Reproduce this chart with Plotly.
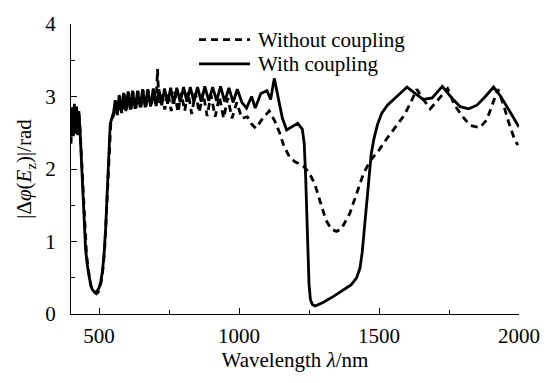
import plotly.graph_objects as go

# ---- data ----
wl_with = [400,404,408,412,416,420,424,428,432,436,440,446,452,458,464,470,476,482,488,494,
           500,506,512,518,524,530,535,540,546,552,558,565,572,580,588,596,604,612,620,629,
           638,647,656,665,674,684,694,704,714,724,734,745,756,767,778,790,802,814,826,839,
           852,865,878,892,906,920,934,949,964,979,994,1010,1027,1045,1058,1078,1100,1113,1126,1140,
           1155,1170,1190,1210,1226,1233,1238,1242,1246,1250,1255,1262,1272,1300,1336,1370,1400,1420,1432,1440,
           1448,1456,1464,1472,1482,1495,1510,1530,1555,1580,1600,1630,1658,1690,1726,1760,1790,1820,1850,1880,
           1909,1935,1960,1980,2000]
phase_with = [2.45,2.85,2.5,2.9,2.55,2.86,2.5,2.8,2.55,2.2,1.75,1.25,0.9,0.68,0.5,0.4,0.34,0.31,0.3,0.32,
              0.36,0.44,0.58,0.82,1.2,1.75,2.3,2.62,2.7,2.78,2.95,2.76,3.02,2.78,3.05,2.8,3.07,2.82,3.08,2.83,
              3.08,2.85,3.1,2.85,3.1,2.86,3.11,2.87,3.1,2.88,3.11,2.9,3.12,2.9,3.12,2.92,3.13,2.93,3.13,2.93,
              3.13,2.93,3.14,2.94,3.13,2.94,3.14,2.93,3.12,2.92,3.1,2.92,2.84,3.0,2.84,3.04,3.08,2.96,3.25,3.0,
              2.7,2.54,2.58,2.63,2.55,2.35,1.9,1.4,0.85,0.42,0.2,0.13,0.11,0.16,0.24,0.32,0.4,0.5,0.63,0.85,
              1.2,1.6,1.95,2.2,2.42,2.62,2.77,2.88,2.97,3.06,3.13,3.04,2.96,2.98,3.14,2.98,2.86,2.83,2.88,3.0,
              3.13,3.0,2.84,2.72,2.58]

wl_without = [400,404,408,412,416,420,424,428,433,438,443,449,455,461,467,473,479,485,491,497,
              503,509,515,521,527,532,537,542,548,554,560,567,574,582,590,598,606,614,622,631,
              640,649,658,667,676,686,696,704,709,714,724,735,746,758,770,782,794,806,818,831,
              844,858,872,886,900,915,930,945,960,975,992,1010,1030,1045,1060,1085,1108,1128,1145,1160,
              1181,1200,1228,1250,1270,1290,1310,1330,1348,1365,1380,1396,1420,1444,1468,1498,1528,1560,1590,1615,
              1635,1660,1683,1710,1745,1770,1795,1826,1860,1885,1910,1925,1945,1965,1985,1996]
phase_without = [2.35,2.78,2.42,2.85,2.48,2.82,2.45,2.78,2.5,2.15,1.7,1.2,0.85,0.62,0.46,0.36,0.31,0.29,0.28,0.3,
                 0.36,0.47,0.65,0.95,1.4,1.9,2.35,2.62,2.7,2.76,2.93,2.74,3.0,2.76,3.03,2.79,3.05,2.8,3.06,2.82,
                 3.07,2.83,3.08,2.84,3.08,2.85,3.07,2.9,3.38,2.9,3.05,2.82,3.06,2.8,3.07,2.78,3.05,2.8,3.06,2.76,
                 3.05,2.78,3.05,2.73,3.02,2.72,3.0,2.7,2.98,2.7,2.92,2.7,2.72,2.62,2.56,2.7,2.8,2.66,2.5,2.32,
                 2.16,2.1,2.05,1.95,1.8,1.56,1.3,1.17,1.14,1.17,1.27,1.39,1.66,1.93,2.11,2.25,2.42,2.58,2.74,2.93,
                 3.1,2.95,2.83,2.95,3.11,2.88,2.74,2.6,2.57,2.68,2.95,3.1,2.88,2.62,2.4,2.33]

series_names = ["Without coupling", "With coupling"]
x_ticks = [500, 1000, 1500, 2000]
y_ticks = [0, 1, 2, 3, 4]

FONT = "Liberation Serif, Times New Roman, serif"
FS = 21

fig = go.Figure()
fig.add_trace(go.Scatter(x=wl_without, y=phase_without, mode="lines", name=series_names[0],
                         line=dict(color="black", width=2.8, dash="7px,5px"), showlegend=False))
fig.add_trace(go.Scatter(x=wl_with, y=phase_with, mode="lines", name=series_names[1],
                         line=dict(color="black", width=2.8), showlegend=False))

# manual legend (paper coordinates)
leg_items = [(series_names[0], "7px,5px", 32), (series_names[1], "solid", 57)]
W, H = 553, 383
L, R, T, B = 71, 34, 16, 69
pw, ph = W - L - R, H - T - B
def px(x):
    return (x - L) / pw
def py(y):
    return (H - B - y) / ph
for name, dash, ypix in leg_items:
    fig.add_shape(type="line", xref="paper", yref="paper",
                  x0=px(199), x1=px(250), y0=py(ypix), y1=py(ypix),
                  line=dict(color="black", width=2.8, dash=dash))
    fig.add_annotation(xref="paper", yref="paper", x=px(256), y=py(ypix),
                       text=name, showarrow=False, xanchor="left", yanchor="middle",
                       font=dict(family=FONT, size=FS, color="black"))

fig.update_layout(
    width=W, height=H,
    margin=dict(l=L, r=R, t=T, b=B),
    plot_bgcolor="white", paper_bgcolor="white",
    font=dict(family=FONT, size=FS, color="black"),
    showlegend=False,
)
fig.update_xaxes(range=[400, 2000], tickvals=x_ticks, ticks="inside", ticklen=6, tickwidth=1,
                 tickcolor="black", showline=True, linecolor="black", linewidth=1.2,
                 showgrid=False, zeroline=False, ticklabelstandoff=3,
                 minor=dict(tickvals=[750, 1250, 1750], ticks="inside", ticklen=4, tickcolor="black"),
                 title=dict(text="Wavelength <i>λ</i>/nm", standoff=3, font=dict(size=FS)))
fig.update_yaxes(range=[0, 4], tickvals=y_ticks, ticks="inside", ticklen=6, tickwidth=1,
                 tickcolor="black", showline=True, linecolor="black", linewidth=1.2,
                 showgrid=False, zeroline=False, ticklabelstandoff=10,
                 minor=dict(tickvals=[0.5, 1.5, 2.5, 3.5], ticks="inside", ticklen=4, tickcolor="black"),
                 title=dict(text="|Δ<i>φ</i>(<i>E</i><sub>z</sub>)|/rad", standoff=7, font=dict(size=FS)))

fig.write_html("out.html")
